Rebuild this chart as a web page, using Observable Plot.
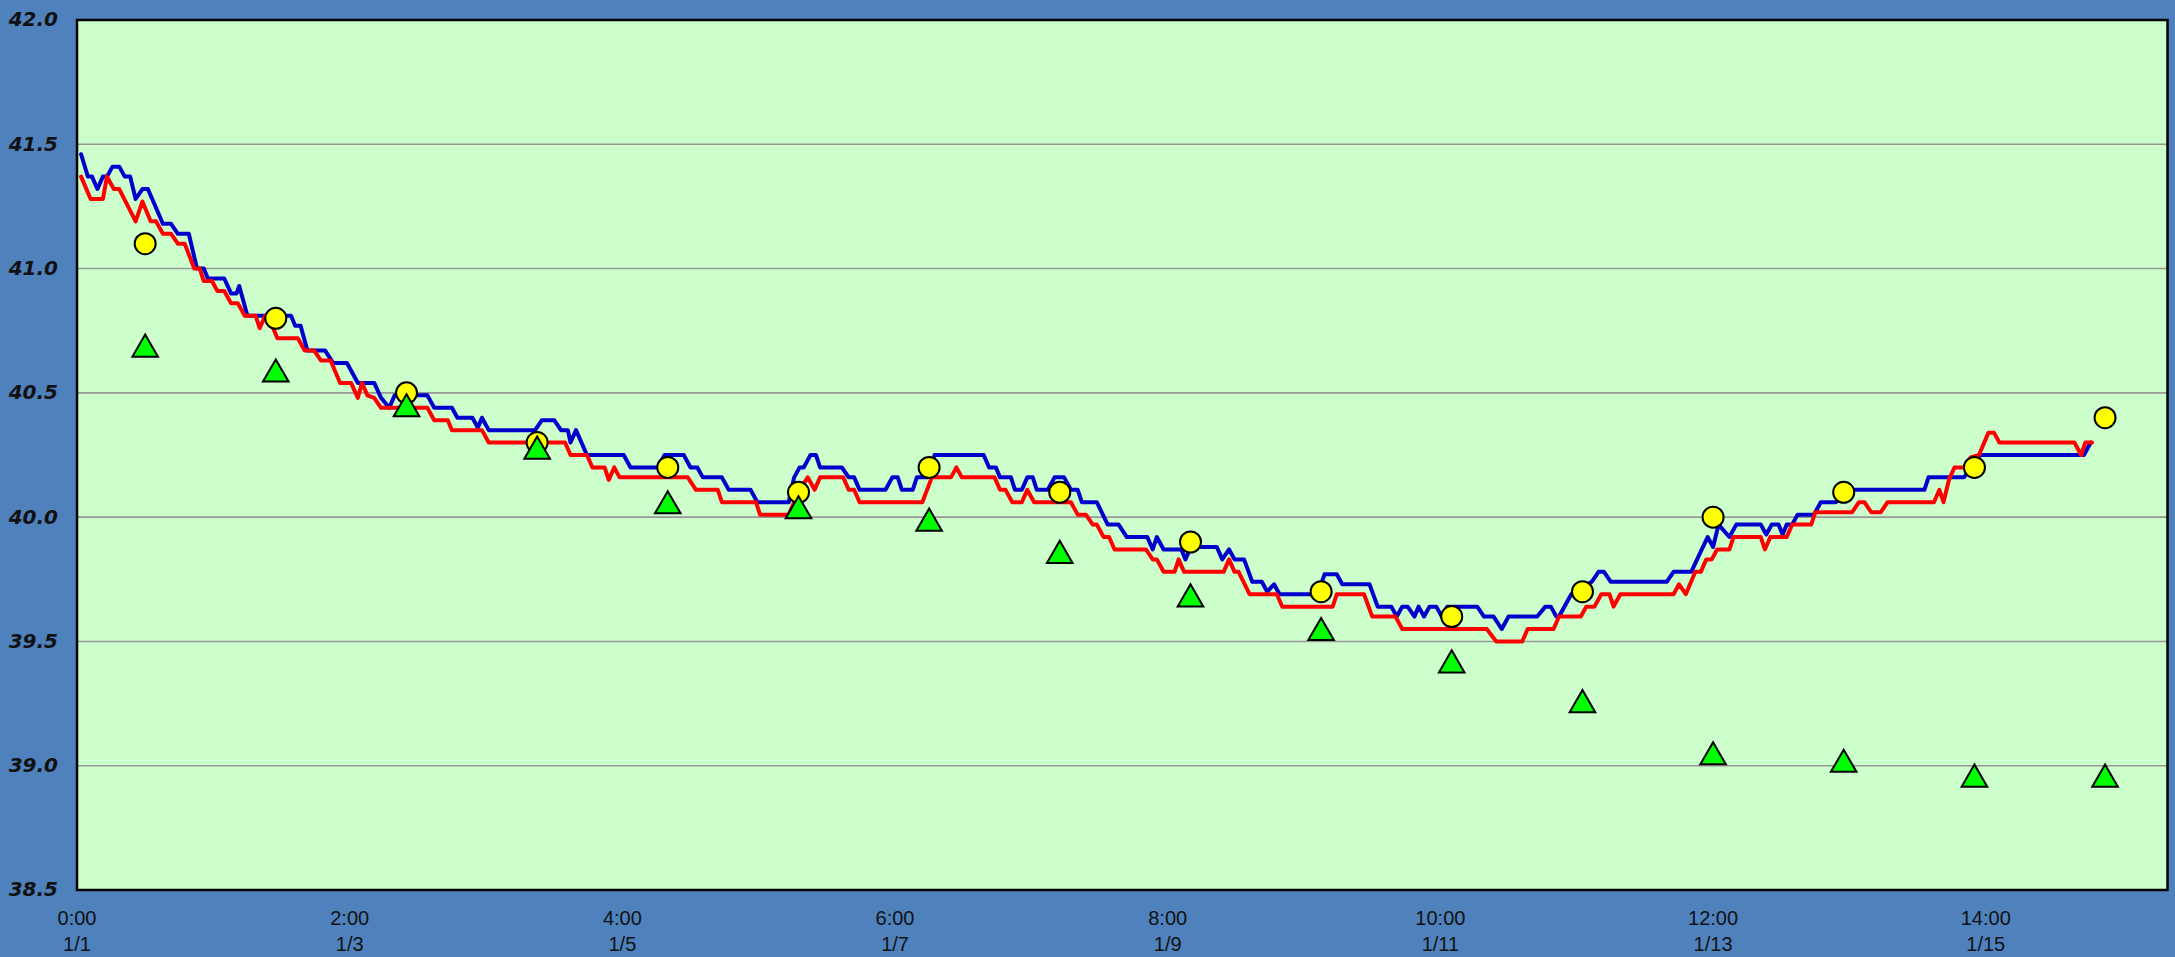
<!DOCTYPE html>
<html>
<head>
<meta charset="utf-8">
<script src="https://cdn.jsdelivr.net/npm/d3@7"></script>
<script src="https://cdn.jsdelivr.net/npm/@observablehq/plot@0.6"></script>
<style>
  html, body { margin: 0; padding: 0; background: #4F81BD; }
  #chart svg { display: block; }
</style>
</head>
<body>
<div id="chart"></div>
<script>
// ---- data (hours on the x axis, readings on the y axis) ----
const xTickHours = [0, 2, 4, 6, 8, 10, 12, 14];
const xTickLabels = ["0:00\n1/1", "2:00\n1/3", "4:00\n1/5", "6:00\n1/7", "8:00\n1/9", "10:00\n1/11", "12:00\n1/13", "14:00\n1/15"];
const yTicks = [38.5, 39.0, 39.5, 40.0, 40.5, 41.0, 41.5, 42.0];

const markerHours = [0.5, 1.458, 2.417, 3.375, 4.333, 5.292, 6.25, 7.208, 8.167, 9.125, 10.083, 11.042, 12.0, 12.958, 13.917, 14.875];
const circleValues = [41.10, 40.80, 40.50, 40.30, 40.20, 40.10, 40.20, 40.10, 39.90, 39.70, 39.60, 39.70, 40.00, 40.10, 40.20, 40.40];
const triangleValues = [40.69, 40.59, 40.45, 40.28, 40.06, 40.04, 39.99, 39.86, 39.685, 39.55, 39.42, 39.26, 39.05, 39.02, 38.96, 38.96];

const blueSeries = [
  [0.03, 41.46], [0.08, 41.37], [0.11, 41.37], [0.15, 41.32], [0.19, 41.37], [0.22, 41.37], [0.26, 41.41], [0.31, 41.41],
  [0.35, 41.37], [0.39, 41.37], [0.43, 41.28], [0.48, 41.32], [0.52, 41.32], [0.63, 41.18], [0.69, 41.18], [0.74, 41.14],
  [0.82, 41.14], [0.88, 41.00], [0.93, 41.00], [0.96, 40.96], [1.08, 40.96], [1.13, 40.90], [1.17, 40.90], [1.19, 40.93],
  [1.25, 40.81], [1.57, 40.81], [1.60, 40.77], [1.64, 40.77], [1.69, 40.67], [1.82, 40.67], [1.88, 40.62], [1.98, 40.62],
  [2.06, 40.54], [2.18, 40.54], [2.23, 40.48], [2.29, 40.44], [2.33, 40.49], [2.57, 40.49], [2.62, 40.44], [2.75, 40.44],
  [2.79, 40.40], [2.90, 40.40], [2.94, 40.36], [2.97, 40.40], [3.02, 40.35], [3.36, 40.35], [3.41, 40.39], [3.50, 40.39],
  [3.55, 40.35], [3.60, 40.35], [3.62, 40.30], [3.66, 40.35], [3.74, 40.25], [4.01, 40.25], [4.06, 40.20], [4.26, 40.20],
  [4.31, 40.25], [4.45, 40.25], [4.50, 40.20], [4.55, 40.20], [4.59, 40.16], [4.73, 40.16], [4.78, 40.11], [4.94, 40.11],
  [4.99, 40.06], [5.22, 40.06], [5.26, 40.16], [5.30, 40.20], [5.33, 40.20], [5.38, 40.25], [5.42, 40.25], [5.45, 40.20],
  [5.61, 40.20], [5.66, 40.16], [5.70, 40.16], [5.74, 40.11], [5.93, 40.11], [5.98, 40.16], [6.02, 40.16], [6.05, 40.11],
  [6.13, 40.11], [6.16, 40.16], [6.24, 40.16], [6.29, 40.25], [6.65, 40.25], [6.69, 40.20], [6.74, 40.20], [6.77, 40.16],
  [6.85, 40.16], [6.88, 40.11], [6.93, 40.11], [6.97, 40.16], [7.01, 40.16], [7.04, 40.11], [7.12, 40.11], [7.17, 40.16],
  [7.24, 40.16], [7.29, 40.11], [7.34, 40.11], [7.37, 40.06], [7.48, 40.06], [7.56, 39.97], [7.64, 39.97], [7.70, 39.92],
  [7.85, 39.92], [7.89, 39.87], [7.92, 39.92], [7.97, 39.87], [8.10, 39.87], [8.13, 39.83], [8.17, 39.88], [8.36, 39.88],
  [8.40, 39.83], [8.45, 39.87], [8.49, 39.83], [8.56, 39.83], [8.62, 39.74], [8.69, 39.74], [8.73, 39.70], [8.78, 39.73],
  [8.82, 39.69], [9.10, 39.69], [9.15, 39.77], [9.24, 39.77], [9.28, 39.73], [9.48, 39.73], [9.54, 39.64], [9.64, 39.64],
  [9.68, 39.60], [9.72, 39.64], [9.76, 39.64], [9.81, 39.60], [9.84, 39.64], [9.88, 39.60], [9.92, 39.64], [9.97, 39.64],
  [10.01, 39.60], [10.05, 39.64], [10.27, 39.64], [10.32, 39.60], [10.39, 39.60], [10.45, 39.55], [10.50, 39.60], [10.71, 39.60],
  [10.77, 39.64], [10.81, 39.64], [10.85, 39.60], [10.87, 39.60], [10.96, 39.69], [11.11, 39.74], [11.16, 39.78], [11.20, 39.78],
  [11.25, 39.74], [11.66, 39.74], [11.71, 39.78], [11.84, 39.78], [11.90, 39.85], [11.96, 39.92], [12.00, 39.88], [12.04, 39.97],
  [12.12, 39.92], [12.17, 39.97], [12.35, 39.97], [12.39, 39.93], [12.43, 39.97], [12.48, 39.97], [12.51, 39.93], [12.54, 39.97],
  [12.58, 39.97], [12.62, 40.01], [12.74, 40.01], [12.79, 40.06], [12.90, 40.06], [13.03, 40.11], [13.55, 40.11], [13.58, 40.16],
  [13.84, 40.16], [13.96, 40.25], [14.72, 40.25], [14.77, 40.30]
];

const redSeries = [
  [0.03, 41.37], [0.10, 41.28], [0.19, 41.28], [0.22, 41.37], [0.27, 41.32], [0.31, 41.32], [0.43, 41.19], [0.48, 41.27],
  [0.54, 41.19], [0.58, 41.19], [0.63, 41.14], [0.69, 41.14], [0.74, 41.10], [0.79, 41.10], [0.86, 41.00], [0.90, 41.00],
  [0.93, 40.95], [0.99, 40.95], [1.03, 40.91], [1.08, 40.91], [1.13, 40.86], [1.18, 40.86], [1.23, 40.81], [1.31, 40.81],
  [1.34, 40.76], [1.38, 40.81], [1.40, 40.81], [1.47, 40.72], [1.62, 40.72], [1.67, 40.67], [1.74, 40.67], [1.79, 40.63],
  [1.86, 40.63], [1.93, 40.54], [2.01, 40.54], [2.06, 40.48], [2.09, 40.54], [2.13, 40.49], [2.18, 40.48], [2.23, 40.44],
  [2.57, 40.44], [2.62, 40.39], [2.72, 40.39], [2.75, 40.35], [2.97, 40.35], [3.02, 40.30], [3.58, 40.30], [3.62, 40.25],
  [3.74, 40.25], [3.78, 40.20], [3.87, 40.20], [3.90, 40.15], [3.94, 40.20], [3.98, 40.16], [4.48, 40.16], [4.54, 40.11],
  [4.70, 40.11], [4.73, 40.06], [4.98, 40.06], [5.01, 40.01], [5.22, 40.01], [5.30, 40.11], [5.36, 40.16], [5.41, 40.11],
  [5.45, 40.16], [5.62, 40.16], [5.66, 40.11], [5.70, 40.11], [5.74, 40.06], [6.20, 40.06], [6.27, 40.16], [6.41, 40.16],
  [6.45, 40.20], [6.49, 40.16], [6.73, 40.16], [6.77, 40.11], [6.81, 40.11], [6.86, 40.06], [6.93, 40.06], [6.97, 40.11],
  [7.02, 40.06], [7.29, 40.06], [7.34, 40.01], [7.40, 40.01], [7.45, 39.97], [7.48, 39.97], [7.53, 39.92], [7.57, 39.92],
  [7.61, 39.87], [7.84, 39.87], [7.89, 39.83], [7.92, 39.83], [7.97, 39.78], [8.05, 39.78], [8.08, 39.83], [8.12, 39.78],
  [8.41, 39.78], [8.45, 39.83], [8.49, 39.78], [8.52, 39.78], [8.60, 39.69], [8.80, 39.69], [8.84, 39.64], [9.21, 39.64],
  [9.24, 39.69], [9.44, 39.69], [9.50, 39.60], [9.67, 39.60], [9.72, 39.55], [10.34, 39.55], [10.41, 39.50], [10.60, 39.50],
  [10.64, 39.55], [10.83, 39.55], [10.87, 39.60], [11.03, 39.60], [11.07, 39.64], [11.13, 39.64], [11.18, 39.69], [11.24, 39.69],
  [11.27, 39.64], [11.32, 39.69], [11.71, 39.69], [11.75, 39.73], [11.80, 39.69], [11.87, 39.78], [11.91, 39.78], [11.95, 39.83],
  [11.99, 39.83], [12.03, 39.87], [12.12, 39.87], [12.15, 39.92], [12.35, 39.92], [12.38, 39.87], [12.42, 39.92], [12.54, 39.92],
  [12.58, 39.97], [12.72, 39.97], [12.75, 40.02], [13.02, 40.02], [13.07, 40.06], [13.11, 40.06], [13.16, 40.02], [13.23, 40.02],
  [13.28, 40.06], [13.62, 40.06], [13.66, 40.11], [13.69, 40.06], [13.73, 40.15], [13.77, 40.20], [13.84, 40.20], [13.89, 40.24],
  [13.95, 40.25], [14.02, 40.34], [14.06, 40.34], [14.10, 40.30], [14.65, 40.30], [14.70, 40.25], [14.73, 40.30], [14.78, 40.30]
];

// ---- build tables ----
const circles = markerHours.map((h, i) => ({h, v: circleValues[i]}));
const triangles = markerHours.map((h, i) => ({h, v: triangleValues[i]}));
const blue = blueSeries.map(([h, v]) => ({h, v}));
const red = redSeries.map(([h, v]) => ({h, v}));
const labelByHour = new Map(xTickHours.map((h, i) => [h, xTickLabels[i]]));

const chart = Plot.plot({
  width: 2175,
  height: 957,
  marginLeft: 76.5,
  marginRight: 8,
  marginTop: 19.5,
  marginBottom: 67.5,
  style: {background: "#4F81BD", fontFamily: "Liberation Sans, Arial, sans-serif"},
  x: {domain: [0, 15.333], axis: null},
  y: {domain: [38.5, 42], axis: null},
  marks: [
    Plot.frame({fill: "#CCFFCC"}),
    Plot.ruleY(yTicks.slice(1, -1), {stroke: "#979797", strokeWidth: 1.6}),
    Plot.line(blue, {x: "h", y: "v", stroke: "#0000CC", strokeWidth: 4, strokeLinejoin: "round", strokeLinecap: "round"}),
    Plot.line(red, {x: "h", y: "v", stroke: "#FF0000", strokeWidth: 4, strokeLinejoin: "round", strokeLinecap: "round"}),
    Plot.dot(circles, {x: "h", y: "v", r: 10.5, fill: "#FFFF00", stroke: "black", strokeWidth: 2}),
    Plot.dot(triangles, {x: "h", y: "v", symbol: "triangle", r: 9.5, dy: 3.7, fill: "#00FF00", stroke: "black", strokeWidth: 2}),
    Plot.frame({stroke: "black", strokeWidth: 2.5}),
    Plot.axisY({
      ticks: yTicks, tickFormat: d => d.toFixed(1), tickSize: 0, tickPadding: 19, label: null,
      fontFamily: "DejaVu Sans", fontWeight: "bold", fontStyle: "italic", fontSize: 20, color: "#111"
    }),
    Plot.axisX({
      ticks: xTickHours, tickFormat: d => labelByHour.get(d), tickSize: 0, tickPadding: 17, label: null,
      lineHeight: 1.3, fontSize: 20, color: "#111"
    })
  ]
});
document.getElementById("chart").appendChild(chart);
</script>
</body>
</html>
